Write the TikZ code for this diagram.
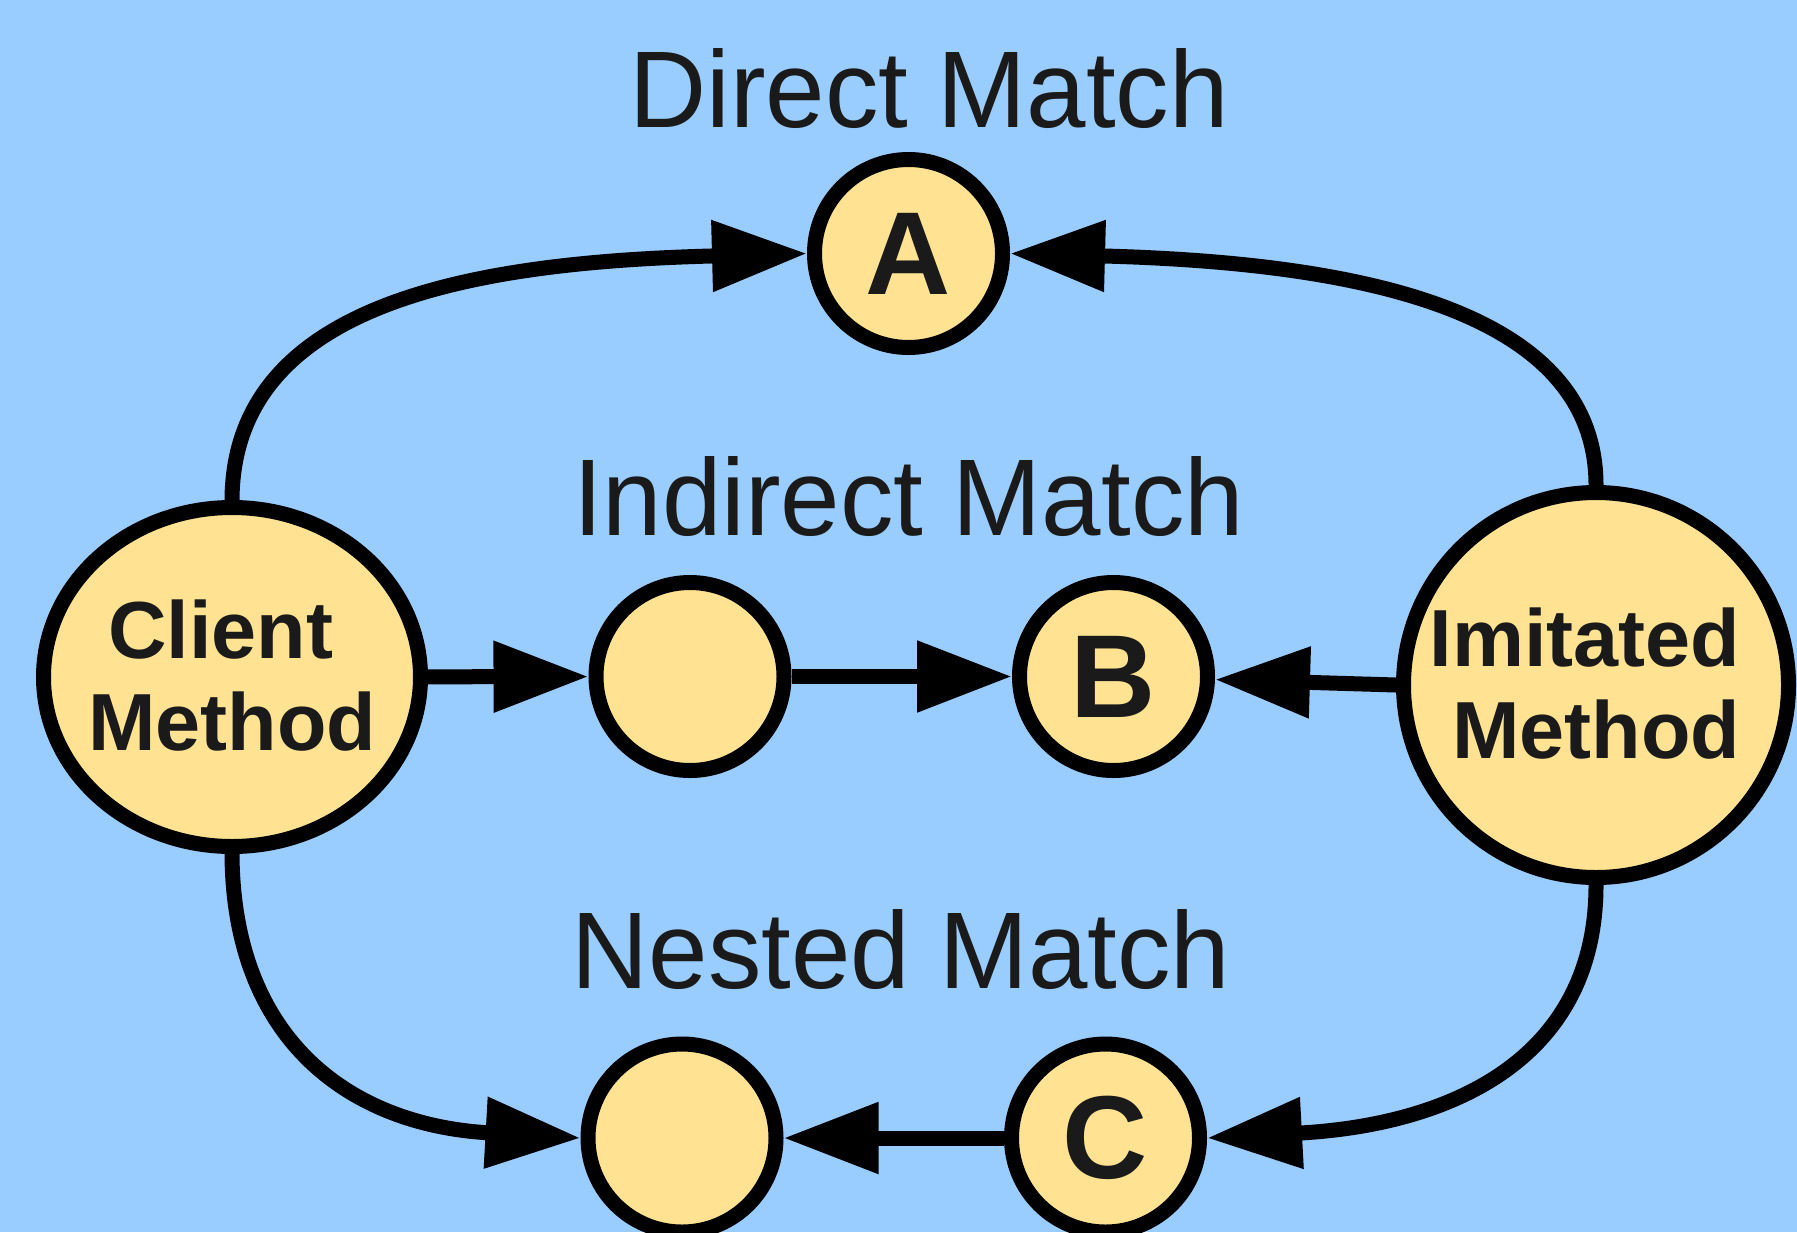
\documentclass[tikz,border=0pt]{standalone}
\usepackage{fontspec}
\setmainfont{Liberation Sans}
\newfontfamily\titlefont[FakeStretch=0.98]{Liberation Sans}
\usetikzlibrary{arrows.meta,shapes.geometric}
\definecolor{bgblue}{HTML}{99CCFF}
\definecolor{nodefill}{HTML}{FFE392}
\definecolor{ink}{HTML}{1A1A1A}
\begin{document}
\begin{tikzpicture}[x=0.5pt,y=-0.5pt,
  ring/.style={circle,draw=black,line width=7.5pt,fill=nodefill,inner sep=0pt,
    minimum size=94pt,text=ink,font=\bfseries\fontsize{59}{59}\selectfont},
  bigring/.style={draw=black,line width=7.5pt,fill=nodefill,inner sep=0pt},
  bigtext/.style={text=ink,font=\bfseries\fontsize{40.5}{46}\selectfont,
    align=center,inner sep=0pt,anchor=base},
  titletext/.style={text=ink,font=\titlefont\fontsize{54.5}{60}\selectfont,
    inner sep=0pt,anchor=base},
  conn/.style={draw=black,line width=7.5pt,
    -{Triangle[length=47.5pt,width=34pt]}}
]
\useasboundingbox (0,0) rectangle (1797,1232);
\fill[bgblue] (0,0) rectangle (1797,1232);

% titles
\node[titletext] (t1) at (929,127) {Direct Match};
\node[titletext] (t2) at (908.5,535) {Indirect Match};
\node[titletext] (t3) at (901,988) {Nested Match};

% big nodes
\node[bigring,ellipse,minimum width=188.5pt,minimum height=169.5pt] (cm) at (232,677) {};
\node[bigring,circle,minimum size=192.5pt] (im) at (1596,685) {};
\node[bigtext] (cmtext) at (232,750) {Client\kern0.278em\\Method};
\node[bigtext] (imtext) at (1596,758) {Imitated\kern0.278em\\Method};

% small nodes
\node[ring] (A) at (908.5,253.5) {A};
\node[ring] (mid) at (690,676.5) {};
\node[ring] (B) at (1113.5,676.5) {B};
\node[ring] (bm) at (682,1138) {};
\node[ring] (C) at (1105.5,1138) {C};

% connectors
\draw[conn] (cm.north) .. controls (233,300) and (480,262) .. (A.west);
\draw[conn] (im.north) .. controls (1596,300) and (1330,262) .. (A.east);
\draw[conn] (cm) -- (mid);
\draw[conn] (mid) -- (B);
\draw[conn] (im.west) -- (B);
\draw[conn] (cm.south) .. controls (233,1040) and (350,1125) .. (bm.west);
\draw[conn] (im.south) .. controls (1596,1060) and (1450,1125) .. (C.east);
\draw[conn] (C) -- (bm);
\end{tikzpicture}
\end{document}
